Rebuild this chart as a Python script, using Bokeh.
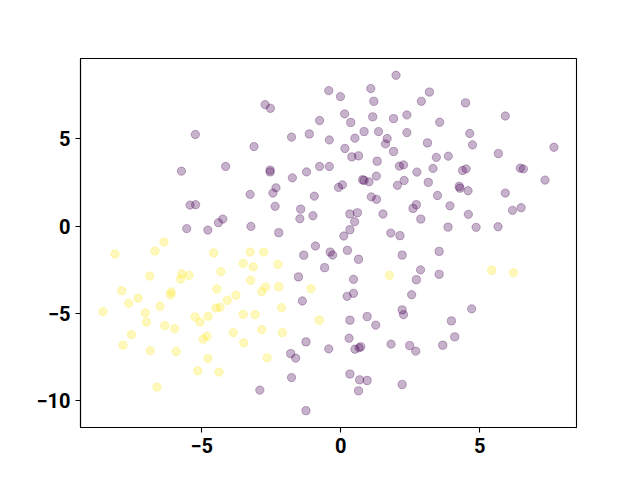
from bokeh.plotting import figure
from bokeh.models import Range1d, FixedTicker
from bokeh.embed import file_html
from bokeh.resources import INLINE

# class 0 (purple)
x0 = [-5.23, -5.73, -4.14, -3.12, -3.26, -5.42, -5.22, -4.24, -4.40, -5.54, -4.78, -3.23,
      1.99, -0.43, -0.01, 1.08, 1.19, -2.72, -2.53, -0.76, 0.14, 0.36, 1.15, 1.90, 2.38,
      -1.77, -1.13, -0.41, 0.51, 0.84, 1.36, 1.67, 1.61, 1.90, 2.38, 0.15, 0.40, 0.64, 1.31,
      -2.54, -2.54, -0.76, -0.41, -1.23, -1.74, 2.11, 2.26, 0.79, 0.84, 1.02, 1.28, 2.04, 2.28,
      -2.33, -2.44, -0.95, -0.08, 0.06, 1.10, 1.29, -2.36, -1.44, -1.47, -1.00, 0.33, 0.60,
      0.50, 0.33, 0.11, 1.52, 1.80, 2.13, 2.60, 2.72, -2.23, -0.91,
      3.19, 2.90, 4.49, 3.56, 5.92, 3.12, 4.64, 4.74, 3.44, 3.87, 5.67, 7.67, 2.74, 3.32,
      4.38, 4.51, 6.46, 6.57, 3.15, 4.26, 4.29, 4.58, 7.35, 3.48, 5.92, 3.93, 2.88, 4.59,
      6.18, 6.49, 3.86, 4.87, 5.66,
      2.21, 3.54, 2.87, 2.72, 3.54, 2.55, 2.21, 2.26, 4.71, 3.98, 4.10, 3.67, 2.48, 2.70, 2.21,
      -1.33, -0.38, -0.29, 0.24, 0.64, -0.58, -1.52, 0.46, 0.23, 0.46, -1.38, 0.33, 0.95, 1.26,
      -1.25, -0.43, 0.30, 0.51, 0.66, 0.72, 1.81, -1.80, -1.62, -1.77, -2.91, 0.33, 0.68, 0.95,
      0.64, -1.25]
y0 = [5.24, 3.14, 3.41, 4.55, 1.81, 1.20, 1.22, 0.40, 0.19, -0.15, -0.23, -0.02,
      8.63, 7.75, 7.41, 7.87, 7.14, 6.95, 6.74, 6.04, 6.42, 5.93, 6.25, 6.15, 6.36,
      5.09, 5.27, 4.93, 5.03, 5.41, 5.41, 5.01, 4.70, 4.27, 5.35, 4.44, 3.96, 4.02, 3.71,
      3.20, 3.10, 3.41, 3.41, 3.10, 2.76, 3.43, 3.50, 2.65, 2.61, 2.53, 2.86, 2.33, 2.61,
      2.19, 1.89, 1.71, 2.21, 2.36, 1.67, 1.53, 1.13, 0.97, 0.42, 0.59, 0.69, 0.76,
      0.25, -0.21, -0.57, 0.69, -0.40, -0.55, 1.01, 1.22, -0.38, -1.14,
      7.67, 7.14, 7.05, 5.94, 6.30, 4.76, 5.30, 4.65, 3.93, 4.00, 4.15, 4.51, 3.09, 3.30,
      3.18, 3.27, 3.31, 3.27, 2.50, 2.27, 2.17, 2.02, 2.63, 1.75, 1.89, 1.16, 0.40, 0.67,
      0.90, 1.05, -0.06, -0.07, -0.04,
      -1.66, -1.45, -2.51, -3.07, -2.76, -3.93, -4.80, -5.07, -4.74, -5.43, -6.34, -6.82, -6.84, -7.16, -9.07,
      -1.67, -1.49, -1.66, -1.39, -1.90, -2.38, -2.91, -3.05, -4.02, -3.85, -4.29, -5.39, -5.18, -5.67,
      -6.63, -7.03, -6.42, -7.05, -6.97, -6.91, -6.76, -7.30, -7.56, -8.67, -9.39, -8.47, -8.80, -8.84,
      -9.43, -10.57]

# class 1 (yellow)
x1 = [-6.36, -8.12, -6.68, -4.57, -3.26, -2.77, -3.51, -3.15, -2.26, -4.31, -6.87, -5.72,
      -5.76, -5.46, -3.24, -7.88, -7.29, -7.63, -6.10, -6.12, -4.46, -3.77, -4.08, -2.71,
      -2.84, -2.23, -1.07, -4.49, -4.34, -8.55, -7.03, -6.99, -6.50, -5.24, -5.06, -4.77,
      -3.51, -3.08, -2.13, -0.77, -6.33, -5.97, -7.53, -7.83, -4.95, -4.81, -3.87, -2.84,
      -2.10, -3.49, -6.85, -5.92, -4.78, -2.65, -5.14, -4.38, -6.61, 1.75, 5.43, 6.21]
y1 = [-0.91, -1.60, -1.43, -1.54, -1.49, -1.49, -2.13, -2.34, -2.19, -2.61, -2.86, -2.73,
      -3.03, -2.82, -3.10, -3.70, -4.13, -4.42, -3.77, -3.94, -3.60, -3.96, -4.25, -3.49,
      -3.75, -3.47, -3.58, -4.69, -4.65, -4.90, -4.97, -5.50, -4.59, -5.20, -5.50, -5.16,
      -5.05, -5.07, -4.67, -5.39, -5.70, -5.87, -6.21, -6.82, -6.47, -6.30, -6.10, -5.93,
      -6.10, -6.69, -7.13, -7.18, -7.58, -7.54, -8.29, -8.36, -9.22, -2.82, -2.53, -2.67]

x_ticks = [-5, 0, 5]
x_tick_labels = ["\u22125", "0", "5"]
y_ticks = [-10, -5, 0, 5]
y_tick_labels = ["\u221210", "\u22125", "0", "5"]

allx = x0 + x1
ally = y0 + y1
padx = 0.05 * (max(allx) - min(allx))
pady = 0.05 * (max(ally) - min(ally))

p = figure(output_backend="svg", toolbar_location=None,
           frame_width=496, frame_height=369,
           min_border_left=80, min_border_right=56, min_border_top=58, min_border_bottom=45,
           x_range=Range1d(min(allx) - padx, max(allx) + padx),
           y_range=Range1d(min(ally) - pady, max(ally) + pady))

p.background_fill_color = "white"
p.border_fill_color = "white"
p.outline_line_color = "black"
p.outline_line_width = 1.1
p.grid.visible = False

p.scatter(x0, y0, size=8.3, fill_color="#440154", fill_alpha=0.3,
          line_color="#440154", line_alpha=0.3, line_width=1)
p.scatter(x1, y1, size=8.3, fill_color="#fde725", fill_alpha=0.3,
          line_color="#fde725", line_alpha=0.3, line_width=1)

p.xaxis.ticker = FixedTicker(ticks=x_ticks)
p.yaxis.ticker = FixedTicker(ticks=y_ticks)
p.xaxis.major_label_overrides = dict(zip(x_ticks, x_tick_labels))
p.yaxis.major_label_overrides = dict(zip(y_ticks, y_tick_labels))

for ax in (p.xaxis[0], p.yaxis[0]):
    ax.axis_line_color = "black"
    ax.axis_line_width = 1.1
    ax.major_tick_line_color = "black"
    ax.major_tick_line_width = 1.1
    ax.major_tick_out = 5
    ax.major_tick_in = 0
    ax.minor_tick_line_color = None
    ax.major_label_text_font = "Roboto"
    ax.major_label_text_font_style = "bold"
    ax.major_label_text_font_size = "20px"
    ax.major_label_text_color = "black"
    ax.major_label_standoff = 5

p.yaxis[0].major_label_orientation = "horizontal"

open("out.html", "w").write(file_html(p, INLINE))
